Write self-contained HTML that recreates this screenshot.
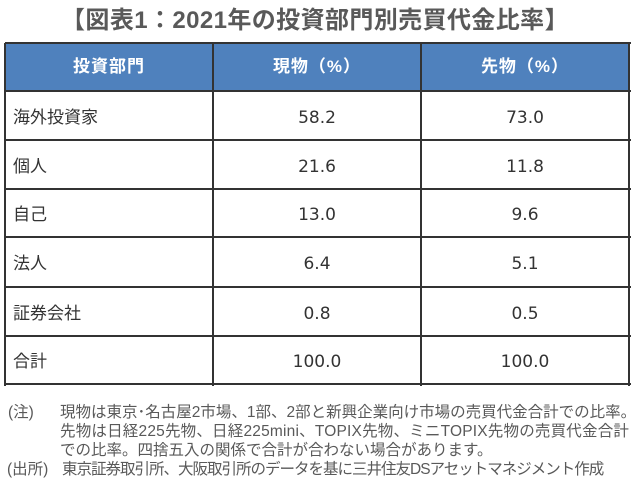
<!DOCTYPE html>
<html><head><meta charset="utf-8">
<style>
html,body{margin:0;padding:0;background:#fff;}
body{width:640px;height:488px;position:relative;overflow:hidden;font-family:"Liberation Sans","Noto Sans CJK JP",sans-serif;}
.a{position:absolute;}
.title{left:0;width:630px;top:5px;height:32px;line-height:32px;text-align:center;font-size:24px;letter-spacing:0.4px;font-weight:bold;color:#595959;white-space:nowrap;}
.hdr{left:5px;top:43px;width:624px;height:48px;background:#4f81bd;}
.h{position:absolute;top:43px;height:48px;line-height:48px;text-align:center;color:#fff;font-weight:bold;font-size:17px;letter-spacing:1px;font-family:"Liberation Sans","Noto Sans CJK JP",sans-serif;}
.hl{position:absolute;left:5px;width:626px;height:2px;background:#333;}
.vl{position:absolute;top:43px;width:2px;height:343px;background:#333;}
.lab{position:absolute;left:13px;font-size:17px;color:#333;white-space:nowrap;}
.num{position:absolute;font-size:17px;color:#333;text-align:center;font-family:"DejaVu Sans","Liberation Sans",sans-serif;}
.fn{position:absolute;font-size:15.5px;color:#595959;white-space:nowrap;line-height:19px;font-family:"Liberation Sans","Noto Sans CJK JP",sans-serif;}
</style></head><body>
<div class="a title">【図表1：2021年の投資部門別売買代金比率】</div>
<div class="a hdr"></div>
<div class="h" style="left:5px;width:208px;">投資部門</div>
<div class="h" style="left:213px;width:208px;">現物（%）</div>
<div class="h" style="left:421px;width:208px;">先物（%）</div>

<div class="hl" style="top:42px;"></div>
<div class="hl" style="top:90px;"></div>
<div class="hl" style="top:139px;"></div>
<div class="hl" style="top:188px;"></div>
<div class="hl" style="top:236px;"></div>
<div class="hl" style="top:286px;"></div>
<div class="hl" style="top:335px;"></div>
<div class="hl" style="top:383px;"></div>
<div class="vl" style="left:4px;"></div>
<div class="vl" style="left:212px;"></div>
<div class="vl" style="left:420px;"></div>
<div class="vl" style="left:628px;"></div>

<div class="lab" style="top:105px;line-height:26px;">海外投資家</div>
<div class="lab" style="top:154px;line-height:26px;">個人</div>
<div class="lab" style="top:202px;line-height:26px;">自己</div>
<div class="lab" style="top:251px;line-height:26px;">法人</div>
<div class="lab" style="top:301px;line-height:26px;">証券会社</div>
<div class="lab" style="top:349px;line-height:26px;">合計</div>

<div class="num" style="left:213px;width:208px;top:105px;line-height:26px;">58.2</div>
<div class="num" style="left:421px;width:208px;top:105px;line-height:26px;">73.0</div>
<div class="num" style="left:213px;width:208px;top:154px;line-height:26px;">21.6</div>
<div class="num" style="left:421px;width:208px;top:154px;line-height:26px;">11.8</div>
<div class="num" style="left:213px;width:208px;top:202px;line-height:26px;">13.0</div>
<div class="num" style="left:421px;width:208px;top:202px;line-height:26px;">9.6</div>
<div class="num" style="left:213px;width:208px;top:251px;line-height:26px;">6.4</div>
<div class="num" style="left:421px;width:208px;top:251px;line-height:26px;">5.1</div>
<div class="num" style="left:213px;width:208px;top:301px;line-height:26px;">0.8</div>
<div class="num" style="left:421px;width:208px;top:301px;line-height:26px;">0.5</div>
<div class="num" style="left:213px;width:208px;top:349px;line-height:26px;">100.0</div>
<div class="num" style="left:421px;width:208px;top:349px;line-height:26px;">100.0</div>

<div class="fn" style="left:8px;top:403px;">(注)</div>
<div class="fn" style="left:60px;top:403px;">現物は東京･名古屋2市場、1部、2部と新興企業向け市場の売買代金合計での比率。</div>
<div class="fn" style="left:60px;top:422px;letter-spacing:0.2px;">先物は日経225先物、日経225mini、TOPIX先物、ミニTOPIX先物の売買代金合計</div>
<div class="fn" style="left:60px;top:441px;">での比率。四捨五入の関係で合計が合わない場合があります。</div>
<div class="fn" style="left:7px;top:460px;">(出所)</div>
<div class="fn" style="left:62px;top:460px;letter-spacing:-1px;">東京証券取引所、大阪取引所のデータを基に三井住友DSアセットマネジメント作成</div>
</body></html>
